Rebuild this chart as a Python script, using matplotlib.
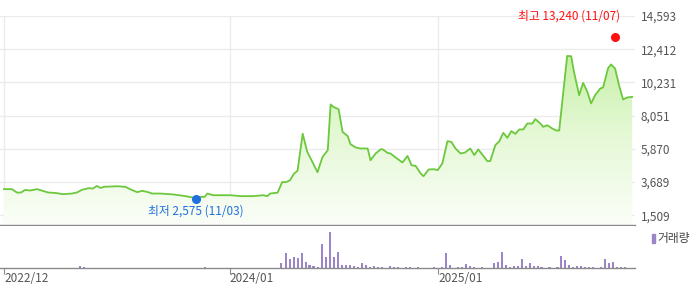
from __future__ import annotations

import matplotlib

matplotlib.use("Agg")

import matplotlib.dates as mdates
import matplotlib.pyplot as plt
import numpy as np
import pandas as pd
from matplotlib.colors import LinearSegmentedColormap
from matplotlib.patches import Rectangle


PRICE_DATES = [
    "2022-12-01", "2022-12-15", "2022-12-24", "2022-12-31", "2023-01-07",
    "2023-01-16", "2023-01-28", "2023-02-06", "2023-02-16", "2023-03-01",
    "2023-03-15", "2023-03-30", "2023-04-08", "2023-04-17", "2023-04-28",
    "2023-05-06", "2023-05-13", "2023-05-19", "2023-05-27", "2023-06-05",
    "2023-06-18", "2023-07-02", "2023-07-14", "2023-07-23", "2023-07-31",
    "2023-08-09", "2023-08-18", "2023-09-01", "2023-09-24", "2023-10-12",
    "2023-10-27", "2023-11-03", "2023-11-10", "2023-11-18", "2023-11-23",
    "2023-12-03", "2024-01-02", "2024-01-20", "2024-02-11", "2024-02-29",
    "2024-03-07", "2024-03-12", "2024-03-25", "2024-04-02", "2024-04-09",
    "2024-04-16", "2024-04-22", "2024-04-29", "2024-05-08", "2024-05-16",
    "2024-05-25", "2024-06-03", "2024-06-08", "2024-06-12", "2024-06-21",
    "2024-06-26", "2024-07-01", "2024-07-10", "2024-07-17", "2024-07-26",
    "2024-07-31", "2024-08-09", "2024-08-17", "2024-08-30", "2024-09-04",
    "2024-09-13", "2024-09-22", "2024-09-25", "2024-10-04", "2024-10-09",
    "2024-10-18", "2024-10-30", "2024-11-08", "2024-11-15", "2024-11-22",
    "2024-12-01", "2024-12-06", "2024-12-15", "2024-12-24", "2024-12-31",
    "2025-01-08", "2025-01-17", "2025-01-24", "2025-01-31", "2025-02-09",
    "2025-02-17", "2025-02-26", "2025-03-05", "2025-03-12", "2025-03-28",
    "2025-04-02", "2025-04-11", "2025-04-18", "2025-04-25", "2025-05-02",
    "2025-05-09", "2025-05-16", "2025-05-23", "2025-05-30", "2025-06-06",
    "2025-06-15", "2025-06-20", "2025-06-29", "2025-07-04", "2025-07-11",
    "2025-07-20", "2025-07-27", "2025-08-01", "2025-08-15", "2025-08-22",
    "2025-08-27", "2025-09-05", "2025-09-12", "2025-09-19", "2025-09-26",
    "2025-10-03", "2025-10-12", "2025-10-17", "2025-10-26", "2025-10-31",
    "2025-11-07", "2025-11-14", "2025-11-21", "2025-11-28", "2025-12-07",
]
PRICE_VALUES = [
    3220, 3220, 2990, 3000, 3170,
    3130, 3220, 3120, 3000, 2970,
    2890, 2930, 3000, 3180, 3280,
    3260, 3430, 3300, 3380, 3390,
    3410, 3370, 3150, 3020, 3110,
    3040, 2930, 2930, 2870, 2780,
    2680, 2610, 2710, 2710, 2930,
    2820, 2820, 2760, 2760, 2820,
    2760, 2930, 2990, 3680, 3680,
    3810, 4200, 4430, 6860, 5670,
    5010, 4330, 4910, 5340, 5780,
    8780, 8620, 8470, 6980, 6700,
    6170, 5960, 5890, 5890, 5120,
    5560, 5840, 5840, 5600, 5560,
    5300, 4970, 5400, 4790, 4750,
    4250, 4070, 4510, 4530, 4470,
    4910, 6370, 6320, 5890, 5560,
    5630, 5890, 5450, 5830, 5060,
    5060, 6110, 6370, 6920, 6590,
    7030, 6850, 7140, 7140, 7530,
    7530, 7820, 7530, 7310, 7420,
    7200, 7070, 7070, 11970, 11950,
    10920, 9390, 10200, 9650, 8850,
    9390, 9830, 9900, 11190, 11410,
    11150, 10050, 9110, 9240, 9280,
]

VOLUME_DATES = [
    "2023-04-13", "2023-04-20", "2023-11-18",
    "2024-03-31", "2024-04-08", "2024-04-15", "2024-04-22", "2024-04-29",
    "2024-05-06", "2024-05-13", "2024-05-20", "2024-05-27", "2024-06-04",
    "2024-06-11", "2024-06-18", "2024-06-25", "2024-07-02", "2024-07-09",
    "2024-07-16", "2024-07-23", "2024-07-30", "2024-08-06", "2024-08-13",
    "2024-08-20", "2024-08-27", "2024-09-03", "2024-09-10", "2024-09-17",
    "2024-09-24", "2024-10-08", "2024-10-15", "2024-10-22", "2024-11-05",
    "2024-11-12", "2024-11-26", "2024-12-24",
    "2025-01-07", "2025-01-14", "2025-01-21", "2025-02-04", "2025-02-11",
    "2025-02-18", "2025-02-25", "2025-03-04", "2025-03-18", "2025-04-08",
    "2025-04-15", "2025-04-22", "2025-04-29", "2025-05-06", "2025-05-13",
    "2025-05-20", "2025-05-27", "2025-06-03", "2025-06-10", "2025-06-17",
    "2025-06-24", "2025-07-01", "2025-07-15", "2025-07-29", "2025-08-05",
    "2025-08-12", "2025-08-19", "2025-08-26", "2025-09-02", "2025-09-09",
    "2025-09-16", "2025-09-23", "2025-09-30", "2025-10-14", "2025-10-21",
    "2025-10-28", "2025-11-04", "2025-11-11", "2025-11-18", "2025-11-25",
]
VOLUME_VALUES = [
    46000, 20000, 20000,
    106000, 306000, 186000, 226000, 206000,
    306000, 126000, 66000, 46000, 30000,
    486000, 226000, 726000, 226000, 326000,
    66000, 66000, 66000, 46000, 26000,
    106000, 66000, 26000, 46000, 26000,
    26000, 46000, 26000, 26000, 26000,
    26000, 26000, 26000,
    26000, 306000, 66000, 26000, 26000,
    86000, 46000, 26000, 26000, 106000,
    126000, 326000, 66000, 26000, 46000,
    46000, 186000, 46000, 106000, 46000,
    46000, 26000, 26000, 26000, 246000,
    166000, 66000, 26000, 46000, 46000,
    26000, 26000, 26000, 26000, 186000,
    106000, 126000, 26000, 26000, 26000,
]

Y_TICKS = [1509, 3689, 5870, 8051, 10231, 12412, 14593]
X_TICKS = ["2022-12-01", "2024-01-01", "2025-01-01"]
X_TICK_LABELS = ["2022/12", "2024/01", "2025/01"]

HIGH_DATE, HIGH_VALUE, HIGH_LABEL = "2025-11-07", 13240, "최고 13,240 (11/07)"
LOW_DATE, LOW_VALUE, LOW_LABEL = "2023-11-03", 2575, "최저 2,575 (11/03)"

X_RANGE = ("2022-11-24", "2025-12-12")
PRICE_RANGE = (864, 14593)
VOLUME_TOP = 840000

LINE_COLOR = "#6cc83c"
GRID_COLOR = "#ebebeb"
AXIS_COLOR = "#8a8a8a"
TEXT_COLOR = "#555555"
VOLUME_COLOR = "#9b84c8"


def main() -> None:
    plt.rcParams["font.family"] = ["Noto Sans CJK KR", "DejaVu Sans"]

    price_dates = pd.to_datetime(PRICE_DATES)
    volume_dates = pd.to_datetime(VOLUME_DATES)
    x_lo, x_hi = (mdates.date2num(pd.Timestamp(d)) for d in X_RANGE)

    fig = plt.figure(figsize=(7.0, 2.89), dpi=100)
    ax = fig.add_axes([0.0, 64 / 289, 635 / 700, 209 / 289])
    vax = fig.add_axes([0.0, 21 / 289, 635 / 700, 42 / 289], sharex=ax)

    # price panel
    ax.set_xlim(x_lo, x_hi)
    ax.set_ylim(*PRICE_RANGE)

    poly = ax.fill_between(price_dates, PRICE_VALUES, PRICE_RANGE[0],
                           facecolor="none", edgecolor="none")
    cmap = LinearSegmentedColormap.from_list(
        "fade", ["#fbfef8", "#e4f8d4", "#bfee9c"])
    grad = np.linspace(0, 1, 256).reshape(-1, 1)
    img = ax.imshow(grad, cmap=cmap, origin="lower", aspect="auto",
                    extent=[x_lo, x_hi, PRICE_RANGE[0], 13200], zorder=1)
    img.set_clip_path(poly.get_paths()[0], transform=ax.transData)

    ax.plot(price_dates, PRICE_VALUES, color=LINE_COLOR, lw=1.3, zorder=3)

    ax.set_yticks(Y_TICKS)
    ax.set_yticklabels([f"{v:,}" for v in Y_TICKS])
    ax.yaxis.tick_right()
    ax.tick_params(axis="y", length=0, pad=4, labelsize=8.5,
                   labelcolor=TEXT_COLOR)
    ax.set_xticks([mdates.date2num(pd.Timestamp(d)) for d in X_TICKS])
    ax.tick_params(axis="x", length=0, labelbottom=False)
    ax.grid(True, color=GRID_COLOR, lw=1.0, zorder=0)
    ax.set_axisbelow(True)
    for side in ("top", "left", "right"):
        ax.spines[side].set_visible(False)
    ax.spines["bottom"].set_color(AXIS_COLOR)
    ax.spines["bottom"].set_linewidth(1.0)

    hx = mdates.date2num(pd.Timestamp(HIGH_DATE))
    lx = mdates.date2num(pd.Timestamp(LOW_DATE))
    ax.plot(hx, HIGH_VALUE, "o", color="#ff1010", ms=5.5, zorder=4)
    ax.annotate(HIGH_LABEL, (hx, HIGH_VALUE), xytext=(4, 10),
                textcoords="offset points", ha="right", va="bottom",
                color="#ff1010", fontsize=8.5)
    ax.plot(lx, LOW_VALUE, "o", color="#1f6fe0", ms=5.5, zorder=4)
    ax.annotate(LOW_LABEL, (lx, LOW_VALUE), xytext=(0, -4),
                textcoords="offset points", ha="center", va="top",
                color="#1f6fe0", fontsize=8.5)

    # volume panel
    vax.bar(volume_dates, VOLUME_VALUES, width=3.6, color=VOLUME_COLOR,
            align="center", linewidth=0, antialiased=False, zorder=2)
    vax.set_ylim(0, VOLUME_TOP)
    vax.set_yticks([])
    for side in ("top", "left", "right"):
        vax.spines[side].set_visible(False)
    vax.spines["bottom"].set_color(AXIS_COLOR)
    vax.spines["bottom"].set_linewidth(1.0)
    vax.set_xticks([mdates.date2num(pd.Timestamp(d)) for d in X_TICKS])
    vax.set_xticklabels(X_TICK_LABELS, ha="left")
    vax.tick_params(axis="x", length=4, color=AXIS_COLOR, pad=-1,
                    labelsize=8.5, labelcolor=TEXT_COLOR)

    # legend for volume
    fig.patches.append(Rectangle((652 / 700, 1 - 243 / 289), 3 / 700, 9 / 289,
                                 transform=fig.transFigure,
                                 color=VOLUME_COLOR))
    fig.text(657 / 700, 1 - 238.5 / 289, "거래량", ha="left", va="center",
             fontsize=8.5, color="#444444")

    fig.savefig("out.png", dpi=100)
    plt.close(fig)


if __name__ == "__main__":
    main()
